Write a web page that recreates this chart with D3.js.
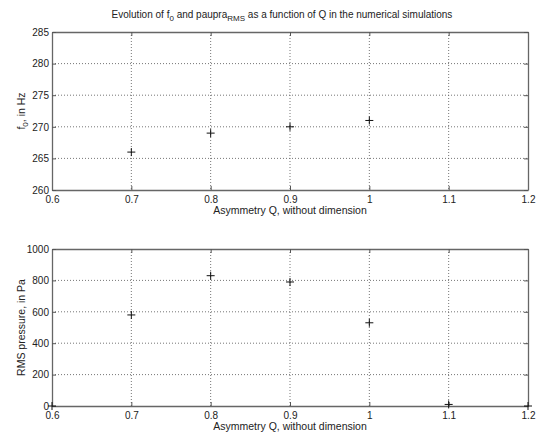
<!DOCTYPE html>
<html>
<head>
<meta charset="utf-8">
<script src="https://cdn.jsdelivr.net/npm/d3@7"></script>
<style>
  body { margin: 0; background: #fff; }
  svg { display: block; }
  text { font-family: "Liberation Sans", Arial, sans-serif; fill: #222; }
</style>
</head>
<body>
<svg id="chart" width="536" height="434"></svg>
<script>
// Asymmetry values Q (x axis, shared by both panels)
const qTicks = [0.6, 0.7, 0.8, 0.9, 1.0, 1.1, 1.2];
const qTickLabels = ["0.6", "0.7", "0.8", "0.9", "1", "1.1", "1.2"];

// Panel 1: fundamental frequency f0 (Hz)
const qFreq = [0.7, 0.8, 0.9, 1.0];
const f0Values = [266, 269, 270, 271];
const f0Ticks = [260, 265, 270, 275, 280, 285];

// Panel 2: RMS pressure (Pa)
const qPressure = [0.6, 0.7, 0.8, 0.9, 1.0, 1.1, 1.2];
const rmsValues = [0, 580, 830, 790, 530, 10, 0];
const rmsTicks = [0, 200, 400, 600, 800, 1000];

const svg = d3.select("#chart");
const left = 52, right = 528;

const x = d3.scaleLinear().domain([0.6, 1.2]).range([left, right]);

function panel(top, bottom, yDomain, yTicks, xs, ys, yLabelParts) {
  const y = d3.scaleLinear().domain(yDomain).range([bottom, top]);
  const g = svg.append("g");

  // dotted grid
  g.selectAll(".vgrid").data(qTicks.slice(1, -1)).enter().append("line")
    .attr("x1", d => x(d)).attr("x2", d => x(d))
    .attr("y1", top).attr("y2", bottom)
    .attr("stroke", "#666").attr("stroke-width", 0.9)
    .attr("stroke-dasharray", "1,2");
  g.selectAll(".hgrid").data(yTicks.slice(1, -1)).enter().append("line")
    .attr("x1", left).attr("x2", right)
    .attr("y1", d => y(d)).attr("y2", d => y(d))
    .attr("stroke", "#666").attr("stroke-width", 0.9)
    .attr("stroke-dasharray", "1,2");

  // x axis (ticks drawn inward) and mirrored top ticks
  const xAxis = d3.axisBottom(x).tickValues(qTicks)
    .tickFormat((d, i) => qTickLabels[i]).tickSizeInner(-4).tickSizeOuter(0).tickPadding(6);
  const gx = g.append("g").attr("transform", `translate(0,${bottom})`).call(xAxis);
  const xTop = d3.axisTop(x).tickValues(qTicks).tickFormat("").tickSizeInner(-4).tickSizeOuter(0);
  const gxt = g.append("g").attr("transform", `translate(0,${top})`).call(xTop);

  const yAxis = d3.axisLeft(y).tickValues(yTicks).tickFormat(d3.format("d"))
    .tickSizeInner(-4).tickSizeOuter(0).tickPadding(3);
  const gy = g.append("g").attr("transform", `translate(${left},0)`).call(yAxis);
  const yRight = d3.axisRight(y).tickValues(yTicks).tickFormat("").tickSizeInner(-4).tickSizeOuter(0);
  const gyr = g.append("g").attr("transform", `translate(${right},0)`).call(yRight);

  [gx, gxt, gy, gyr].forEach(a => {
    a.select(".domain").attr("stroke", "#666").attr("stroke-width", 1.3);
    a.selectAll(".tick line").attr("stroke", "#555");
    a.selectAll(".tick text").attr("font-size", 10)
      .style("font-family", "'Liberation Sans', Arial, sans-serif").attr("fill", "#333");
  });

  // '+' markers
  const pts = xs.map((q, i) => [q, ys[i]]);
  g.selectAll(".pt").data(pts).enter().append("path")
    .attr("d", d => {
      const px = x(d[0]), py = y(d[1]);
      return `M${px - 4},${py}H${px + 4}M${px},${py - 4}V${py + 4}`;
    })
    .attr("stroke", "#111").attr("stroke-width", 1);

  // x label
  svg.append("text").attr("x", 290).attr("y", bottom + 24)
    .attr("text-anchor", "middle").attr("font-size", 10.5)
    .text("Asymmetry Q, without dimension");

  // y label
  const cy = (top + bottom) / 2;
  const t = svg.append("text").attr("transform", `translate(25,${cy}) rotate(-90)`)
    .attr("text-anchor", "middle").attr("font-size", 10.5);
  yLabelParts.forEach(p => {
    const s = t.append("tspan").text(p.t);
    if (p.sub) s.attr("font-size", 8).attr("dy", 3);
    if (p.back) s.attr("dy", -3);
  });
  return y;
}

panel(32, 190, [260, 285], f0Ticks, qFreq, f0Values,
  [{t: "f"}, {t: "0", sub: true}, {t: ", in Hz", back: true}]);
panel(249, 406, [0, 1000], rmsTicks, qPressure, rmsValues,
  [{t: "RMS pressure, in Pa"}]);

// title with subscripts
const title = svg.append("text").attr("x", 282).attr("y", 18)
  .attr("text-anchor", "middle").attr("font-size", 10);
title.append("tspan").text("Evolution of f");
title.append("tspan").text("0").attr("font-size", 8).attr("dy", 3);
title.append("tspan").text(" and paupra").attr("dy", -3);
title.append("tspan").text("RMS").attr("font-size", 8).attr("dy", 3);
title.append("tspan").text(" as a function of Q in the numerical simulations").attr("dy", -3);
</script>
</body>
</html>
